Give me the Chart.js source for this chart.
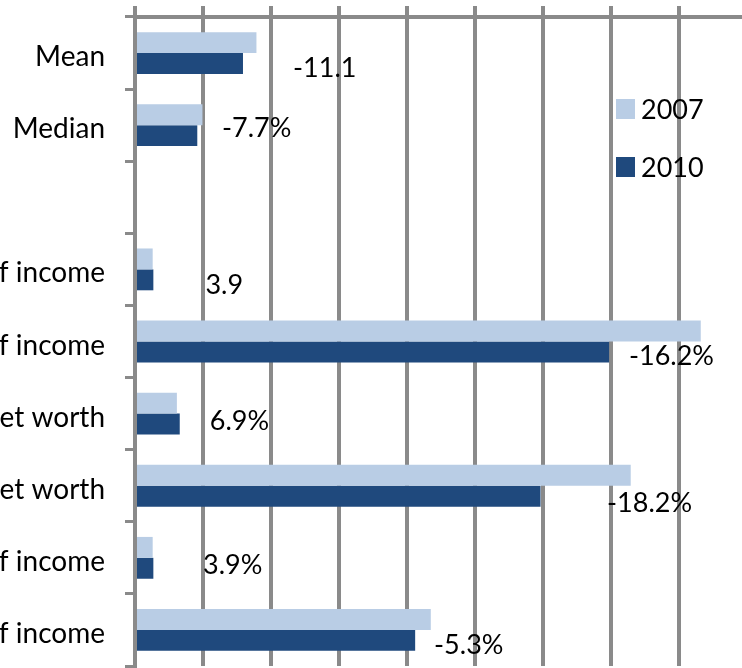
<!DOCTYPE html>
<html>
<head>
<meta charset="utf-8">
<script src="https://cdn.jsdelivr.net/npm/chart.js@4"></script>
<style>
  html, body { margin: 0; padding: 0; background: #fff; overflow: hidden; }
  #wrap { position: relative; width: 742px; height: 668px; overflow: hidden; }
  canvas { position: absolute; left: 0; top: 0; }
</style>
</head>
<body>
<div id="wrap"><canvas id="chart" width="815" height="668"></canvas></div>
<script>
// categories (long labels run off the left edge)
const categories = [
  'Mean',
  'Median',
  '',
  'Debt payments as % of income',
  'Total debt as % of income',
  'Debt as % of net worth',
  'Assets as multiple of net worth',
  'Housing debt as % of income',
  'Housing value as % of income'
];
const seriesNames = ['2007', '2010'];
const values2007 = [89.3, 49.6, null, 13.0, 416.0, 30.8, 364.5, 13.0, 217.5];
const values2010 = [79.4, 45.8, null, 13.5, 348.6, 32.9, 298.2, 13.5, 206.0];
const changeLabels = ['-11.1', '-7.7%', '', '3.9', '-16.2%', '6.9%', '-18.2%', '3.9%', '-5.3%'];

// where each change label starts (axis units) and its nudge off the 2010 bar
const labelAt = [116.2, 64.0, 0, 51.8, 363.2, 55.0, 347.1, 50.0, 219.9];
const labelDy = [4, -8, 0, 4, 3, -3.5, 6.5, -4.5, 4];

const GRID = '#8a8a8a';
const FONT = 'Lato, "Open Sans", sans-serif';

const changeLabelPlugin = {
  id: 'changeLabels',
  afterDatasetsDraw(chart) {
    const ctx = chart.ctx;
    const xs = chart.scales.x;
    const bars = chart.getDatasetMeta(1).data;
    ctx.save();
    ctx.font = '27px ' + FONT;
    ctx.fillStyle = '#000';
    ctx.textAlign = 'left';
    ctx.textBaseline = 'alphabetic';
    changeLabels.forEach((txt, i) => {
      if (!txt) return;
      const y = bars[i].y + labelDy[i];
      ctx.fillText(txt, xs.getPixelForValue(labelAt[i]), y + 0.36 * 27);
    });
    ctx.restore();
  }
};

// legend sits inside the plot, over the gridlines
const boxLegendPlugin = {
  id: 'boxLegend',
  afterDraw(chart) {
    const ctx = chart.ctx;
    ctx.save();
    ctx.font = '27px ' + FONT;
    ctx.textBaseline = 'alphabetic';
    chart.data.datasets.forEach((ds, i) => {
      const cy = 109 + i * 58;
      ctx.fillStyle = ds.backgroundColor;
      ctx.fillRect(616, cy - 10, 19, 20);
      ctx.fillStyle = '#000';
      ctx.fillText(ds.label, 641, cy + 0.36 * 27);
    });
    ctx.restore();
  }
};

new Chart(document.getElementById('chart'), {
  type: 'bar',
  data: {
    labels: categories,
    datasets: [
      { label: seriesNames[0], data: values2007, backgroundColor: '#b9cde5' },
      { label: seriesNames[1], data: values2010, backgroundColor: '#1f497d' }
    ]
  },
  options: {
    indexAxis: 'y',
    responsive: false,
    animation: false,
    devicePixelRatio: 1,
    categoryPercentage: 0.58,
    barPercentage: 1,
    layout: { padding: { top: 0, right: 0, bottom: 2, left: 0 } },
    scales: {
      x: {
        position: 'top',
        min: 0,
        max: 500,
        ticks: { display: false, stepSize: 50 },
        grid: { color: GRID, lineWidth: 4, tickLength: 11 },
        border: { color: GRID, width: 4 },
        afterFit(s) {
          s.height = 17;
          s.paddingLeft = 0;
          s.paddingRight = 0;
        }
      },
      y: {
        z: 1,
        ticks: {
          color: '#000',
          padding: 20,
          labelOffset: 4,
          autoSkip: false,
          font: { family: FONT, size: 28 }
        },
        grid: { color: GRID, lineWidth: 3, tickLength: 10, drawOnChartArea: false },
        border: { color: GRID, width: 4 },
        afterFit(s) {
          s.width = 135;
          s.paddingTop = 0;
          s.paddingBottom = 0;
        }
      }
    },
    plugins: {
      legend: { display: false },
      tooltip: { enabled: false }
    }
  },
  plugins: [changeLabelPlugin, boxLegendPlugin]
});
</script>
</body>
</html>
